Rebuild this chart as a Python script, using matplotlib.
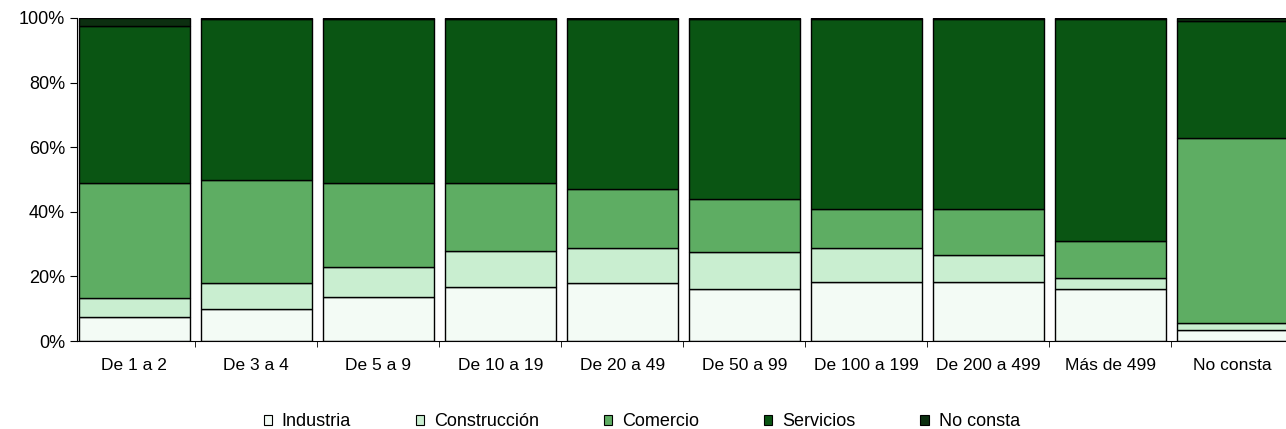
import numpy as np
import matplotlib.pyplot as plt
from matplotlib.patches import Patch
from matplotlib.ticker import PercentFormatter

plt.rcParams['font.family'] = ['Liberation Sans', 'DejaVu Sans']

categories = ['De 1 a 2', 'De 3 a 4', 'De 5 a 9', 'De 10 a 19', 'De 20 a 49',
              'De 50 a 99', 'De 100 a 199', 'De 200 a 499', 'Más de 499', 'No consta']
sectors = ['Industria', 'Construcción', 'Comercio', 'Servicios', 'No consta']

# porcentajes por sector
industria = [7.4, 10.0, 13.5, 16.7, 18.0, 16.0, 18.2, 18.3, 16.2, 3.5]
construccion = [5.9, 8.0, 9.5, 11.1, 10.7, 11.5, 10.5, 8.2, 3.3, 2.0]
comercio = [35.7, 31.7, 26.0, 21.0, 18.3, 16.5, 12.3, 14.5, 11.5, 57.5]
servicios = [48.5, 50.0, 50.7, 51.0, 52.8, 55.8, 58.8, 58.8, 68.8, 36.0]
no_consta = [2.5, 0.3, 0.3, 0.2, 0.2, 0.2, 0.2, 0.2, 0.2, 1.0]

colors = ['#f3fbf5', '#c9eed0', '#5ead63', '#0a5513', '#0c2f10']

fig = plt.figure(figsize=(12.86, 4.29), dpi=100)
ax = fig.add_axes([77 / 1286, (429 - 341) / 429, 1220 / 1286, 323 / 429])

x = np.arange(len(categories))
bottom = np.zeros(len(categories))
for vals, col, name in zip([industria, construccion, comercio, servicios, no_consta], colors, sectors):
    ax.bar(x, vals, width=0.91, bottom=bottom, color=col, edgecolor='black', linewidth=1.0, label=name)
    bottom += np.array(vals)

ax.set_xlim(-0.47, 9.53)
ax.set_ylim(0, 100)
ax.set_yticks([0, 20, 40, 60, 80, 100])
ax.yaxis.set_major_formatter(PercentFormatter(decimals=0))
ax.set_xticks(x)
ax.set_xticklabels(categories, fontsize=12.5)
ax.set_xticks(x[:-1] + 0.5, minor=True)
ax.tick_params(axis='x', which='major', length=0, pad=12)
ax.tick_params(axis='x', which='minor', length=4, direction='out')
ax.tick_params(axis='y', labelsize=13, length=5)
for s in ['top', 'right']:
    ax.spines[s].set_visible(False)

handles = [Patch(facecolor=c, edgecolor='black', linewidth=0.8) for c in colors]
fig.legend(handles, sectors, loc='center', bbox_to_anchor=(0.499, 0.017), ncol=5,
           frameon=False, fontsize=13, handlelength=0.45, handleheight=0.45,
           handletextpad=0.55, columnspacing=3.6, borderpad=0)

fig.savefig('out.png', dpi=100)
